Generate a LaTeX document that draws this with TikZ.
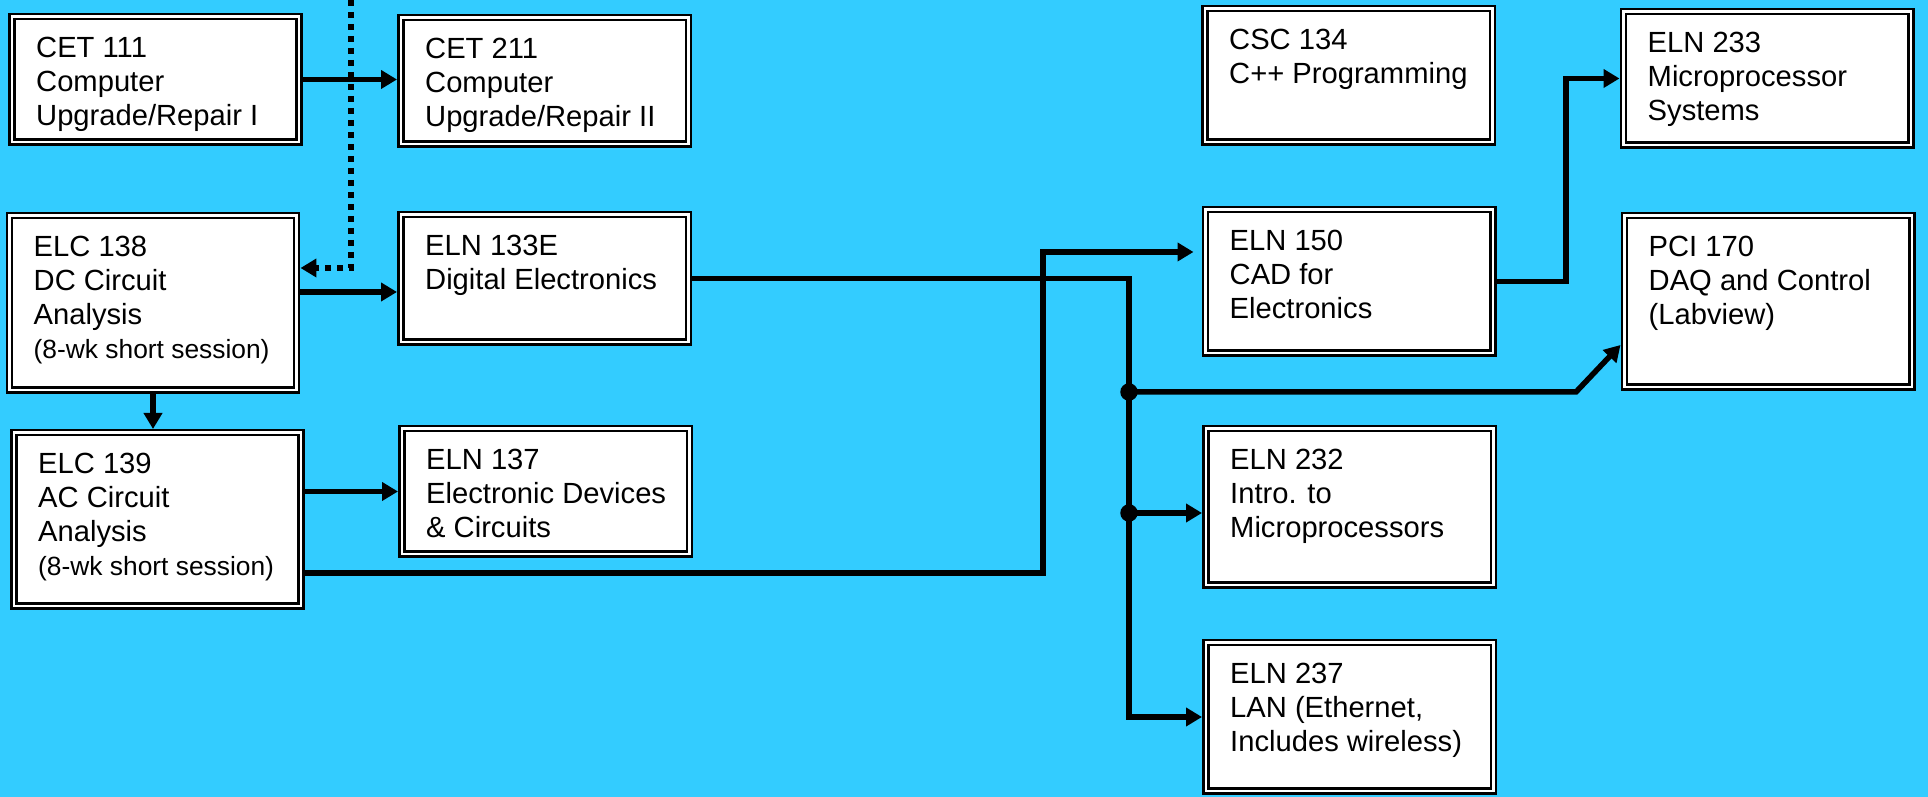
\documentclass[tikz,border=0pt]{standalone}
\usepackage{fontspec}
\setmainfont{Liberation Sans}
\usepackage{tikz}
\usetikzlibrary{positioning,arrows.meta,calc}
\definecolor{pathblue}{HTML}{33CCFF}

\begin{document}
\begin{tikzpicture}[
   x=0.1mm, y=-0.1mm,
   course/.style={draw=black, line width=0.25mm, double=white, double distance=0.25mm,
                  fill=white, inner sep=0pt, outer sep=0.375mm, minimum width=28.75mm},
   ctext/.style={anchor=north west, align=left, inner sep=0pt,
                 font=\fontsize{8.3}{9.7}\selectfont},
   link/.style={->, line width=0.55mm},
   dotlink/.style={->, line width=0.6mm, dash pattern=on 0.6mm off 0.6mm},
   junc/.style={circle, fill=black, inner sep=0pt, minimum size=1.75mm},
   >={Triangle[length=1.6mm, width=1.8mm]}]
  \useasboundingbox (0,0) rectangle (1928,797);
  \fill[pathblue] (0,0) rectangle (1928,797);
  % first column
  \node[course, minimum height=12.55mm] (cet111) at (155.5,79.5) {};
  \node[course, minimum height=17.45mm] (elc138) at (153,303) {};
  \node[course, minimum height=17.35mm] (elc139) at (157.5,519.5) {};
  % second column
  \node[course, minimum height=12.65mm] (cet211) at (544.5,81) {};
  \node[course, minimum height=12.75mm] (eln133e) at (544.5,278.5) {};
  \node[course, minimum height=12.55mm] (eln137) at (545.5,491.5) {};
  % third column
  \node[course, minimum height=13.35mm] (csc134) at (1348.5,75.5) {};
  \node[course, minimum height=14.35mm] (eln150) at (1349,281.5) {};
  \node[course, minimum height=15.65mm] (eln232) at (1349.5,507) {};
  \node[course, minimum height=14.85mm] (eln237) at (1349.5,717) {};
  % fourth column
  \node[course, minimum height=13.35mm] (eln233) at (1767,78.5) {};
  \node[course, minimum height=17.15mm] (pci170) at (1768,301.5) {};
  % course titles
  \node[ctext] (cet111-txt) at ([shift={(2.75mm,-2.35mm)}]cet111.north west)
    {CET 111\\Computer\\Upgrade/Repair I};
  \node[ctext] (elc138-txt) at ([shift={(2.75mm,-2.35mm)}]elc138.north west)
    {ELC 138\\DC Circuit\\Analysis\\{\fontsize{7.5}{9.1}\selectfont (8-wk short session)}};
  \node[ctext] (elc139-txt) at ([shift={(2.75mm,-2.35mm)}]elc139.north west)
    {ELC 139\\AC Circuit\\Analysis\\{\fontsize{7.5}{9.1}\selectfont (8-wk short session)}};
  \node[ctext] (cet211-txt) at ([shift={(2.75mm,-2.35mm)}]cet211.north west)
    {CET 211\\Computer\\Upgrade/Repair II};
  \node[ctext] (eln133e-txt) at ([shift={(2.75mm,-2.35mm)}]eln133e.north west)
    {ELN 133E\\Digital Electronics};
  \node[ctext] (eln137-txt) at ([shift={(2.75mm,-2.35mm)}]eln137.north west)
    {ELN 137\\Electronic Devices\\\& Circuits};
  \node[ctext] (csc134-txt) at ([shift={(2.75mm,-2.35mm)}]csc134.north west)
    {CSC 134\\C++ Programming};
  \node[ctext] (eln150-txt) at ([shift={(2.75mm,-2.35mm)}]eln150.north west)
    {ELN 150\\CAD for\\Electronics};
  \node[ctext] (eln232-txt) at ([shift={(2.75mm,-2.35mm)}]eln232.north west)
    {ELN 232\\Intro. to\\Microprocessors};
  \node[ctext] (eln237-txt) at ([shift={(2.75mm,-2.35mm)}]eln237.north west)
    {ELN 237\\LAN (Ethernet,\\Includes wireless)};
  \node[ctext] (eln233-txt) at ([shift={(2.75mm,-2.35mm)}]eln233.north west)
    {ELN 233\\Microprocessor\\Systems};
  \node[ctext] (pci170-txt) at ([shift={(2.75mm,-2.35mm)}]pci170.north west)
    {PCI 170\\DAQ and Control\\(Labview)};
  % left side links
  \draw[link] (cet111.east) -- (cet111.east -| cet211.west);
  \coordinate (dtop) at (351,0);
  \coordinate (dcin) at ([yshift=3.5mm]elc138.east);
  \draw[dotlink] (dtop) |- (dcin);
  \coordinate (dcout) at ([yshift=1.1mm]elc138.east);
  \draw[link] (dcout) -- (dcout -| eln133e.west);
  \draw[link] (elc138.south) -- (elc138.south |- elc139.north);
  \draw[link] (elc139.east |- eln137.west) -- (eln137.west);
  \coordinate (acout) at ([yshift=-5.35mm]elc139.east);
  \coordinate (cadin) at ([yshift=2.95mm]eln150.west);
  \coordinate (riseA) at (1043,0);
  \draw[link, shorten >=0.8mm] (acout) -| (riseA |- cadin) -- (cadin);
  % bus from digital electronics
  \coordinate (bus) at (1129,0);
  \draw[link] (eln133e.east) -| (bus |- eln237.west) -- (eln237.west);
  \node[junc] (tap1) at (1129,392) {};
  \node[junc] (tap2) at (1129,513) {};
  \coordinate (kink) at (1576,392);
  \coordinate (daqin) at ([yshift=-4.35mm]pci170.west);
  \draw[link] (tap1.center) -- (kink) -- (daqin);
  \draw[link] (tap2.center) -- (tap2 -| eln232.west);
  % CAD to microprocessor systems
  \coordinate (riseB) at (1566,0);
  \draw[link] (eln150.east) -- (eln150.east -| riseB) |- (eln233.west);
\end{tikzpicture}
\end{document}
